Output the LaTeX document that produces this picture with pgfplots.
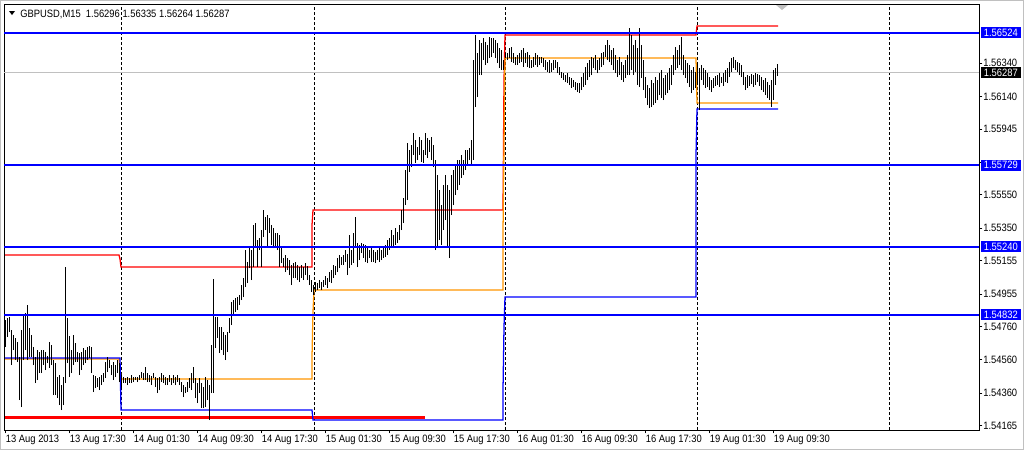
\documentclass[border=0pt]{standalone}
\usepackage{pgfplots}
\pgfplotsset{compat=1.18}
\usepackage{pgfplotstable}
\usepackage{fontspec}
\newfontfamily\mtfont{Liberation Sans}[FakeStretch=0.88]
\definecolor{mtblue}{RGB}{0,0,255}
\definecolor{mtorange}{RGB}{255,150,0}
\definecolor{mtgray}{RGB}{192,192,192}
\pgfplotstableread{
i hi lo
0 1.54799 1.54637
1 1.54811 1.54697
2 1.54817 1.54727
3 1.54739 1.54529
4 1.54709 1.54619
5 1.54691 1.54559
6 1.54667 1.54547
7 1.54577 1.54319
8 1.54739 1.54277
9 1.54829 1.54559
10 1.54841 1.54619
11 1.54889 1.54559
12 1.54751 1.54577
13 1.54709 1.54577
14 1.54637 1.54529
15 1.54577 1.54421
16 1.54619 1.54439
17 1.54607 1.54481
18 1.54619 1.54481
19 1.54619 1.54529
20 1.54607 1.54499
21 1.54583 1.54541
22 1.54667 1.54511
23 1.54649 1.54529
24 1.54559 1.54349
25 1.54541 1.54349
26 1.54457 1.54331
27 1.54469 1.54289
28 1.54409 1.54259
29 1.54457 1.54289
30 1.55117 1.54421
31 1.54811 1.54541
32 1.54703 1.54457
33 1.54619 1.54481
34 1.54709 1.54529
35 1.54661 1.54547
36 1.54607 1.54547
37 1.54601 1.54469
38 1.54607 1.54499
39 1.54631 1.54529
40 1.54619 1.54541
41 1.54637 1.54559
42 1.54643 1.54571
43 1.54637 1.54481
44 1.54469 1.54367
45 1.54463 1.54391
46 1.54451 1.54397
47 1.54457 1.54379
48 1.54469 1.54409
49 1.54481 1.54427
50 1.54547 1.54451
51 1.54577 1.54487
52 1.54559 1.54511
53 1.54529 1.54469
54 1.54547 1.54439
55 1.54529 1.54457
56 1.54559 1.54481
57 1.54541 1.54427
58 1.54469 1.54397
59 1.54457 1.54421
60 1.54451 1.54421
61 1.54457 1.54409
62 1.54451 1.54421
63 1.54469 1.54421
64 1.54457 1.54427
65 1.54457 1.54439
66 1.54457 1.54427
67 1.54469 1.54439
68 1.54487 1.54451
69 1.54481 1.54439
70 1.54517 1.54439
71 1.54481 1.54427
72 1.54469 1.54427
73 1.54463 1.54409
74 1.54481 1.54451
75 1.54457 1.54397
76 1.54451 1.54361
77 1.54457 1.54379
78 1.54481 1.54427
79 1.54469 1.54421
80 1.54457 1.54409
81 1.54451 1.54409
82 1.54469 1.54427
83 1.54451 1.54409
84 1.54469 1.54421
85 1.54457 1.54409
86 1.54469 1.54427
87 1.54451 1.54409
88 1.54427 1.54367
89 1.54409 1.54337
90 1.54397 1.54361
91 1.54427 1.54367
92 1.54451 1.54391
93 1.54481 1.54379
94 1.54517 1.54421
95 1.54451 1.54331
96 1.54421 1.54301
97 1.54451 1.54361
98 1.54421 1.54271
99 1.54397 1.54271
100 1.54457 1.54277
101 1.54439 1.54319
102 1.54409 1.54199
103 1.54649 1.54361
104 1.55045 1.54361
105 1.54817 1.54631
106 1.54817 1.54691
107 1.54757 1.54601
108 1.54757 1.54619
109 1.54727 1.54589
110 1.54709 1.54559
111 1.54727 1.54607
112 1.54811 1.54721
113 1.54907 1.54769
114 1.54919 1.54829
115 1.54931 1.54847
116 1.54937 1.54859
117 1.54949 1.54889
118 1.55009 1.54919
119 1.55051 1.54937
120 1.55219 1.54997
121 1.55147 1.55021
122 1.55231 1.55111
123 1.55219 1.55039
124 1.55369 1.55117
125 1.55381 1.55231
126 1.55279 1.55117
127 1.55291 1.55219
128 1.55339 1.55117
129 1.55459 1.55297
130 1.55417 1.55339
131 1.55429 1.55237
132 1.55411 1.55321
133 1.55369 1.55249
134 1.55351 1.55231
135 1.55321 1.55237
136 1.55321 1.55219
137 1.55309 1.55117
138 1.55231 1.55141
139 1.55171 1.55117
140 1.55189 1.55087
141 1.55171 1.55099
142 1.55159 1.55069
143 1.55129 1.55009
144 1.55141 1.55051
145 1.55147 1.55051
146 1.55129 1.55039
147 1.55117 1.55027
148 1.55129 1.55051
149 1.55117 1.55039
150 1.55141 1.55069
151 1.55123 1.55039
152 1.55069 1.55009
153 1.55039 1.54967
154 1.55009 1.54949
155 1.55027 1.54967
156 1.55021 1.54979
157 1.55039 1.54991
158 1.55027 1.54979
159 1.55039 1.54997
160 1.55063 1.55009
161 1.55051 1.54991
162 1.55087 1.55027
163 1.55099 1.55021
164 1.55129 1.55051
165 1.55123 1.55069
166 1.55171 1.55087
167 1.55189 1.55111
168 1.55177 1.55129
169 1.55189 1.55129
170 1.55219 1.55147
171 1.55195 1.55069
172 1.55309 1.55111
173 1.55219 1.55129
174 1.55321 1.55141
175 1.55417 1.55237
176 1.55261 1.55117
177 1.55249 1.55159
178 1.55261 1.55201
179 1.55255 1.55171
180 1.55249 1.55147
181 1.55231 1.55141
182 1.55219 1.55171
183 1.55237 1.55147
184 1.55219 1.55147
185 1.55207 1.55141
186 1.55219 1.55159
187 1.55231 1.55147
188 1.55219 1.55159
189 1.55237 1.55171
190 1.55249 1.55177
191 1.55279 1.55189
192 1.55291 1.55219
193 1.55339 1.55231
194 1.55309 1.55237
195 1.55351 1.55249
196 1.55327 1.55261
197 1.55369 1.55279
198 1.55459 1.55339
199 1.55531 1.55381
200 1.55699 1.55489
201 1.55861 1.55519
202 1.55819 1.55687
203 1.55849 1.55717
204 1.55921 1.55789
205 1.55879 1.55741
206 1.55837 1.55759
207 1.55897 1.55789
208 1.55879 1.55747
209 1.55819 1.55741
210 1.55921 1.55789
211 1.55891 1.55771
212 1.55879 1.55807
213 1.55897 1.55759
214 1.55849 1.55717
215 1.55759 1.55219
216 1.55669 1.55231
217 1.55579 1.55279
218 1.55489 1.55249
219 1.55609 1.55339
220 1.55669 1.55399
221 1.55609 1.55237
222 1.55579 1.55171
223 1.55669 1.55429
224 1.55699 1.55489
225 1.55729 1.55549
226 1.55759 1.55579
227 1.55759 1.55609
228 1.55789 1.55651
229 1.55759 1.55669
230 1.55819 1.55699
231 1.55819 1.55729
232 1.55831 1.55759
233 1.55879 1.55729
234 1.56359 1.55759
235 1.56509 1.56077
236 1.56401 1.56137
237 1.56479 1.56269
238 1.56461 1.56269
239 1.56491 1.56359
240 1.56467 1.56329
241 1.56449 1.56341
242 1.56497 1.56371
243 1.56491 1.56377
244 1.56491 1.56401
245 1.56479 1.56371
246 1.56461 1.56341
247 1.56431 1.56311
248 1.56419 1.56299
249 1.56359 1.56299
250 1.56401 1.56371
251 1.56401 1.56359
252 1.56431 1.56371
253 1.56437 1.56347
254 1.56401 1.56341
255 1.56377 1.56329
256 1.56389 1.56329
257 1.56401 1.56341
258 1.56419 1.56347
259 1.56431 1.56317
260 1.56401 1.56341
261 1.56407 1.56317
262 1.56389 1.56311
263 1.56359 1.56311
264 1.56377 1.56317
265 1.56401 1.56329
266 1.56389 1.56317
267 1.56377 1.56329
268 1.56377 1.56341
269 1.56371 1.56317
270 1.56359 1.56299
271 1.56347 1.56287
272 1.56359 1.56281
273 1.56341 1.56287
274 1.56359 1.56299
275 1.56359 1.56311
276 1.56347 1.56281
277 1.56317 1.56269
278 1.56287 1.56251
279 1.56281 1.56239
280 1.56269 1.56227
281 1.56281 1.56221
282 1.56257 1.56209
283 1.56251 1.56191
284 1.56239 1.56197
285 1.56227 1.56179
286 1.56221 1.56167
287 1.56221 1.56161
288 1.56257 1.56179
289 1.56281 1.56197
290 1.56317 1.56209
291 1.56341 1.56239
292 1.56359 1.56257
293 1.56377 1.56269
294 1.56371 1.56311
295 1.56389 1.56299
296 1.56359 1.56281
297 1.56371 1.56299
298 1.56401 1.56317
299 1.56407 1.56329
300 1.56449 1.56377
301 1.56479 1.56359
302 1.56449 1.56347
303 1.56419 1.56329
304 1.56431 1.56299
305 1.56389 1.56281
306 1.56359 1.56257
307 1.56377 1.56269
308 1.56347 1.56239
309 1.56329 1.56227
310 1.56359 1.56251
311 1.56389 1.56269
312 1.56551 1.56269
313 1.56509 1.56299
314 1.56449 1.56269
315 1.56479 1.56287
316 1.56431 1.56209
317 1.56551 1.56197
318 1.56449 1.56251
319 1.56359 1.56179
320 1.56257 1.56131
321 1.56209 1.56089
322 1.56191 1.56071
323 1.56239 1.56077
324 1.56221 1.56089
325 1.56257 1.56101
326 1.56239 1.56119
327 1.56281 1.56149
328 1.56299 1.56131
329 1.56251 1.56119
330 1.56269 1.56149
331 1.56281 1.56161
332 1.56311 1.56179
333 1.56329 1.56209
334 1.56389 1.56269
335 1.56437 1.56299
336 1.56419 1.56311
337 1.56449 1.56329
338 1.56497 1.56299
339 1.56389 1.56269
340 1.56359 1.56251
341 1.56341 1.56221
342 1.56329 1.56197
343 1.56299 1.56161
344 1.56317 1.56179
345 1.56287 1.56191
346 1.56329 1.56209
347 1.56311 1.56059
348 1.56329 1.56239
349 1.56311 1.56209
350 1.56299 1.56191
351 1.56281 1.56197
352 1.56257 1.56179
353 1.56239 1.56167
354 1.56251 1.56191
355 1.56263 1.56203
356 1.56269 1.56209
357 1.56281 1.56197
358 1.56257 1.56221
359 1.56281 1.56203
360 1.56299 1.56227
361 1.56311 1.56221
362 1.56347 1.56257
363 1.56371 1.56287
364 1.56377 1.56311
365 1.56359 1.56299
366 1.56347 1.56287
367 1.56341 1.56269
368 1.56329 1.56257
369 1.56287 1.56209
370 1.56257 1.56179
371 1.56269 1.56191
372 1.56263 1.56203
373 1.56275 1.56215
374 1.56269 1.56197
375 1.56281 1.56209
376 1.56275 1.56227
377 1.56269 1.56203
378 1.56257 1.56179
379 1.56239 1.56167
380 1.56251 1.56149
381 1.56227 1.56131
382 1.56209 1.56119
383 1.56239 1.56077
384 1.56299 1.56119
385 1.56311 1.56209
386 1.56335 1.56263
}\bars
\begin{document}
\begin{tikzpicture}
\useasboundingbox (0,0) rectangle (768pt,-337.5pt);
\fill[white] (0,0) rectangle (768pt,-337.5pt);
\begin{axis}[
  at={(3pt,-322.5pt)}, anchor=south west,
  scale only axis, width=731.25pt, height=319.5pt,
  xmin=-0.5, xmax=487, ymin=1.54139, ymax=1.56695,
  axis line style={black, line width=0.75pt},
  tick align=outside, major tick length=2.5pt,
  tick style={black, line width=0.6pt},
  xtick={0,32,64,96,128,160,192,224,256,288,320,352,384},
  xticklabels={13 Aug 2013,13 Aug 17:30,14 Aug 01:30,14 Aug 09:30,14 Aug 17:30,15 Aug 01:30,15 Aug 09:30,15 Aug 17:30,16 Aug 01:30,16 Aug 09:30,16 Aug 17:30,19 Aug 01:30,19 Aug 09:30},
  xtick pos=bottom,
  xticklabel style={anchor=north west, inner sep=0pt, xshift=0.5pt, yshift=-1pt, font=\mtfont\fontsize{8}{9}\selectfont},
  ytick={1.54165,1.54360,1.54560,1.54760,1.54955,1.55155,1.55350,1.55550,1.55745,1.55945,1.56140,1.56340},
  yticklabels={1.54165,1.54360,1.54560,1.54760,1.54955,1.55155,1.55350,1.55550,{},1.55945,1.56140,1.56340},
  ytick pos=right, yticklabel pos=right,
  yticklabel style={anchor=west, inner sep=0pt, xshift=0.5pt, font=\mtfont\fontsize{8}{9}\selectfont},
  extra x ticks={58,154.5,250,346,442},
  extra x tick labels={},
  extra x tick style={grid=major, major tick length=0pt, major grid style={black, line width=0.75pt, dash pattern=on 2.25pt off 1.5pt}},
  clip=true,
]
% bid line
\addplot[mtgray, line width=0.75pt] coordinates {(-0.5,1.56287) (487,1.56287)};
% thick red segment
\addplot[red, line width=2.25pt] coordinates {(0,1.54217) (210,1.54217)};
% indicator lines
\addplot[red, line width=0.95pt] coordinates {(0,1.55189) (57,1.55189) (57.5,1.55165) (58,1.55117) (153.5,1.55117) (153.5,1.55369) (154,1.55459) (249,1.55459) (249.5,1.56239) (250,1.56509) (345.5,1.56509) (346,1.56563) (386.5,1.56563)};
\addplot[mtorange, line width=0.95pt] coordinates {(0,1.54565) (57,1.54565) (58,1.54445) (153.5,1.54445) (153.5,1.54577) (154,1.54847) (154.5,1.54979) (249,1.54979) (249,1.55327) (250,1.56371) (345.5,1.56371) (346,1.56101) (386.5,1.56101)};
\addplot[mtblue, line width=0.95pt] coordinates {(0,1.54571) (57,1.54571) (57.5,1.54571) (58,1.54259) (153.5,1.54259) (154,1.54199) (249,1.54199) (249,1.54379) (249.5,1.54757) (250,1.54937) (345.5,1.54937) (345.5,1.55789) (346,1.56065) (386.5,1.56065)};
% bars
\addplot[black, line width=0.7pt, quiver={u=0, v=\thisrow{hi}-\thisrow{lo}}] table[x=i, y=lo] {\bars};
% support / resistance lines
\addplot[mtblue, line width=1.5pt] coordinates {(-0.5,1.56524) (487,1.56524)};
\addplot[mtblue, line width=1.5pt] coordinates {(-0.5,1.55729) (487,1.55729)};
\addplot[mtblue, line width=1.5pt] coordinates {(-0.5,1.55240) (487,1.55240)};
\addplot[mtblue, line width=1.5pt] coordinates {(-0.5,1.54832) (487,1.54832)};
\end{axis}
\begin{scope}[x=0.75pt, y=-0.75pt]
\draw[mtgray, line width=0.75pt] (0.5,0.5) rectangle (1023.5,449.5);
\fill[black] (9,11) -- (15,11) -- (12,15) -- cycle;
\node[anchor=base west, inner sep=0pt, font=\mtfont\fontsize{8}{9}\selectfont] at (20,17) {GBPUSD,M15\ \ 1.56296 1.56335 1.56264 1.56287};
\fill[mtgray] (776,5) -- (788,5) -- (782,10) -- cycle;
\foreach \yy/\tt in {32.7/1.56524, 165/1.55729, 246.5/1.55240, 314.5/1.54832}{
  \node[fill=mtblue, text=white, anchor=west, inner xsep=1.2pt, inner ysep=0pt, minimum height=8.25pt, minimum width=30pt, font=\mtfont\fontsize{8}{9}\selectfont] at (980.5,\yy) {\tt};
}
\node[fill=black, text=white, anchor=west, inner xsep=1.2pt, inner ysep=0pt, minimum height=8.25pt, minimum width=30pt, font=\mtfont\fontsize{8}{9}\selectfont] at (980.5,72.5) {1.56287};
\end{scope}
\end{tikzpicture}
\end{document}
